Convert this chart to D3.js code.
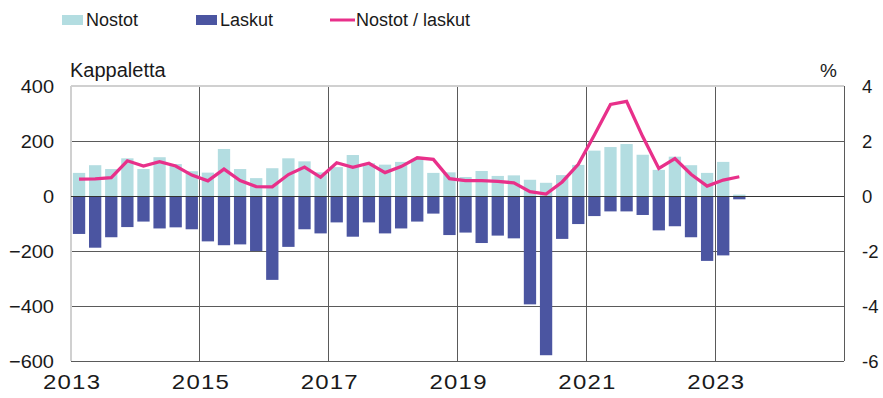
<!DOCTYPE html>
<html>
<head>
<meta charset="utf-8">
<script src="https://cdn.jsdelivr.net/npm/d3@7"></script>
<style>
  body { margin: 0; background: #fff; }
  text { font-family: "Liberation Sans", Arial, sans-serif; fill: #1a1a1a; }
</style>
</head>
<body>
<svg id="chart" width="883" height="398"></svg>
<script>
// Quarterly series, 2013 Q1 – 2023 Q2
const startYear = 2013;
const nostot = [84, 112, 98, 137, 98, 141, 116, 90,
                85, 171, 98, 65, 101, 137, 126, 86,
                105, 149, 119, 114, 124, 135, 84, 86,
                69, 91, 73, 75, 59, 48, 76, 113,
                165, 178, 189, 150, 95, 143, 112, 84,
                124, 5];
const laskut = [-138, -188, -150, -113, -93, -118, -114, -121,
                -165, -179, -176, -200, -305, -185, -121, -136,
                -96, -148, -96, -136, -118, -93, -64, -142,
                -133, -171, -144, -154, -394, -579, -156, -102,
                -73, -56, -56, -69, -125, -110, -150, -236,
                -216, -12];
const ratio = [0.61, 0.62, 0.67, 1.28, 1.09, 1.25, 1.09, 0.76,
               0.55, 0.98, 0.56, 0.34, 0.33, 0.78, 1.05, 0.68,
               1.21, 1.04, 1.19, 0.85, 1.07, 1.39, 1.33, 0.63,
               0.56, 0.56, 0.53, 0.48, 0.16, 0.07, 0.51, 1.15,
               2.22, 3.33, 3.44, 2.16, 1.0, 1.36, 0.79, 0.36,
               0.58, 0.70];
const leftTicks = [400, 200, 0, -200, -400, -600];
const rightTicks = [4, 2, 0, -2, -4, -6];
const yearTicks = [2013, 2015, 2017, 2019, 2021, 2023];
const seriesNames = ["Nostot", "Laskut", "Nostot / laskut"];

const colNostot = "#b3dde1", colLaskut = "#4b55a1", colRatio = "#e8308a";
const gridCol = "#5a5a5a";

const svg = d3.select("#chart");
const L = 71, R = 844, T = 86, B = 361;

const x = d3.scaleLinear().domain([2013, 2025]).range([L, R]);
const y = d3.scaleLinear().domain([-600, 400]).range([B, T]);
const y2 = d3.scaleLinear().domain([-6, 4]).range([B, T]);

const qStart = i => startYear + i / 4;
const qW = x(startYear + 0.25) - x(startYear);
const barPad = 1.9;

// Grid
const g = svg.append("g");
leftTicks.forEach(v => {
  if (v === 400) return;
  g.append("line").attr("x1", L).attr("x2", R).attr("y1", y(v)).attr("y2", y(v))
    .attr("stroke", gridCol).attr("stroke-width", 1).attr("shape-rendering", "crispEdges");
});
yearTicks.slice(1).concat([2025]).forEach(v => {
  g.append("line").attr("x1", x(v)).attr("x2", x(v)).attr("y1", T).attr("y2", B)
    .attr("stroke", gridCol).attr("stroke-width", 1).attr("shape-rendering", "crispEdges");
});
// light top and left frame edges
g.append("line").attr("x1", L).attr("x2", R).attr("y1", T).attr("y2", T)
  .attr("stroke", "#d0d0d0").attr("stroke-width", 2).attr("shape-rendering", "crispEdges");
g.append("line").attr("x1", L).attr("x2", L).attr("y1", T).attr("y2", B)
  .attr("stroke", "#d0d0d0").attr("stroke-width", 2).attr("shape-rendering", "crispEdges");

// Bars
const bars = svg.append("g");
bars.selectAll("rect.n").data(nostot).join("rect").attr("class", "n")
  .attr("x", (d, i) => x(qStart(i)) + barPad)
  .attr("width", qW - 2 * barPad)
  .attr("y", d => y(Math.max(0, d)))
  .attr("height", d => Math.abs(y(d) - y(0)))
  .attr("fill", colNostot);
bars.selectAll("rect.l").data(laskut).join("rect").attr("class", "l")
  .attr("x", (d, i) => x(qStart(i)) + barPad)
  .attr("width", qW - 2 * barPad)
  .attr("y", d => y(Math.max(0, d)))
  .attr("height", d => Math.abs(y(d) - y(0)))
  .attr("fill", colLaskut);

// Zero line over bars
svg.append("line").attr("x1", L).attr("x2", R).attr("y1", y(0)).attr("y2", y(0))
  .attr("stroke", "#333").attr("stroke-width", 1).attr("shape-rendering", "crispEdges");

// Ratio line
const line = d3.line()
  .x((d, i) => x(qStart(i) + 0.125))
  .y(d => y2(d));
svg.append("path").datum(ratio).attr("d", line)
  .attr("fill", "none").attr("stroke", colRatio).attr("stroke-width", 3.3)
  .attr("stroke-linejoin", "miter");

// Axes
const fs = 18.5;
const axL = svg.append("g").attr("transform", `translate(${L},0)`)
  .call(d3.axisLeft(y).tickValues(leftTicks).tickSize(0));
const axR = svg.append("g").attr("transform", `translate(${R},0)`)
  .call(d3.axisRight(y2).tickValues(rightTicks).tickFormat(d => String(d)).tickSize(0));
const axB = svg.append("g").attr("transform", `translate(0,${B})`)
  .call(d3.axisBottom(x).tickValues(yearTicks).tickFormat(d3.format("d")).tickSize(0).tickPadding(14));
[axL, axR, axB].forEach(a => {
  a.select(".domain").remove();
  a.selectAll("text").style("font-size", fs + "px").attr("fill", "#1a1a1a");
});
// slightly wide tick lettering
axL.selectAll("text").attr("x", 0).attr("dy", "0.36em").attr("transform", "translate(-17,0) scale(1.08,1)");
axR.selectAll("text").attr("x", 0).attr("dy", "0.36em").attr("transform", "translate(18,0)");
axB.selectAll("text").style("font-size", "20px").style("letter-spacing", "1px").attr("dx", "0.5px")
  .attr("transform", "scale(1.2,1)");

// Bottom frame
svg.append("line").attr("x1", L).attr("x2", R).attr("y1", B).attr("y2", B)
  .attr("stroke", gridCol).attr("stroke-width", 1).attr("shape-rendering", "crispEdges");

// Unit labels
svg.append("text").attr("x", 70).attr("y", 77).style("font-size", "20px").text("Kappaletta");
svg.append("text").attr("x", 837).attr("y", 77).attr("text-anchor", "end").style("font-size", "19px").text("%");

// Legend
const lg = svg.append("g");
const legY = 20;
lg.append("rect").attr("x", 62).attr("y", legY - 5).attr("width", 21).attr("height", 10).attr("fill", colNostot);
lg.append("text").attr("x", 86).attr("y", legY).attr("dy", "0.36em").style("font-size", "18px").text(seriesNames[0]);
lg.append("rect").attr("x", 196).attr("y", legY - 5).attr("width", 21).attr("height", 10).attr("fill", colLaskut);
lg.append("text").attr("x", 220).attr("y", legY).attr("dy", "0.36em").style("font-size", "18px").text(seriesNames[1]);
lg.append("line").attr("x1", 330).attr("x2", 355).attr("y1", legY).attr("y2", legY)
  .attr("stroke", colRatio).attr("stroke-width", 3);
lg.append("text").attr("x", 356).attr("y", legY).attr("dy", "0.36em").style("font-size", "18px").text(seriesNames[2]);
</script>
</body>
</html>
